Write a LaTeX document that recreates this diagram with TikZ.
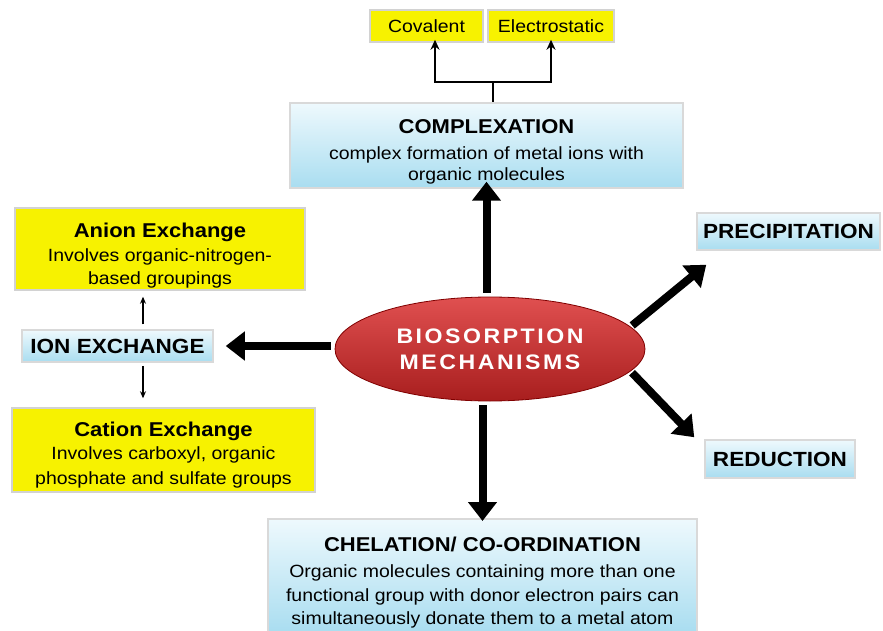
\documentclass[tikz,border=0pt]{standalone}
\usepackage{fontspec}
\setmainfont{Liberation Sans}[FakeStretch=1.1]
\usetikzlibrary{arrows.meta,shapes.geometric,calc}
\definecolor{yel}{HTML}{F7F200}
\definecolor{bluetop}{HTML}{EEF9FD}
\definecolor{bluebot}{HTML}{A9DDF0}
\definecolor{redtop}{HTML}{E05050}
\definecolor{redbot}{HTML}{A81E1E}
\newcommand{\ttl}{\fontsize{20}{22}\selectfont\bfseries}
\newcommand{\lift}[1]{\rule{0pt}{#1}}
\begin{document}
\begin{tikzpicture}[x=1pt,y=-1pt,
  yelbox/.style={fill=yel,draw=gray!35,line width=1.5pt,align=center,inner sep=0pt},
  bluebox/.style={top color=bluetop,bottom color=bluebot,draw=gray!30,line width=1.5pt,align=center,inner sep=0pt},
  body/.style={font=\fontsize{17.7}{23.5}\selectfont},
  bigarrow/.style={line width=8pt,-{Triangle[width=28pt,length=19pt]}},
  thinarrow/.style={line width=1.8pt,-{Stealth[length=10pt,width=9pt]}},
  smallarrow/.style={line width=1.3pt,-{Stealth[length=7pt,width=6pt]}}]
\useasboundingbox (0,0) rectangle (883,631);
\fill[white] (0,0) rectangle (883,631);

% nodes
\node[yelbox,minimum width=113pt,minimum height=32pt,font=\fontsize{17.7}{20}\selectfont] (cov) at (426.5,26) {Covalent};
\node[yelbox,minimum width=126pt,minimum height=32pt,font=\fontsize{17.7}{20}\selectfont] (ele) at (551,26) {Electrostatic};
\node[bluebox,body,minimum width=393pt,minimum height=85pt] (com) at (486.5,145.5)
  {{\ttl\lift{26pt}COMPLEXATION}\\[3pt]complex formation of metal ions with\\[-3pt]organic molecules};
\node[yelbox,body,minimum width=290pt,minimum height=82pt] (ani) at (160,249)
  {{\ttl\lift{28pt}Anion Exchange}\\[0pt]Involves organic-nitrogen-\\based groupings};
\node[bluebox,minimum width=191pt,minimum height=32pt,font=\fontsize{20.5}{22}\selectfont\bfseries] (ion) at (117.5,346)
  {ION EXCHANGE};
\node[yelbox,body,minimum width=303pt,minimum height=84pt] (cat) at (163.5,450)
  {{\ttl\lift{24pt}Cation Exchange}\\[0pt]Involves carboxyl, organic\\[1pt]phosphate and sulfate groups};
\node[bluebox,minimum width=183pt,minimum height=37pt,font=\fontsize{20.5}{22}\selectfont\bfseries] (pre) at (788.5,231.5)
  {PRECIPITATION};
\node[bluebox,minimum width=150pt,minimum height=38pt,font=\fontsize{20.5}{22}\selectfont\bfseries] (red) at (780,459)
  {REDUCTION};
\node[bluebox,body,minimum width=429pt,minimum height=114pt,anchor=north] (che) at (482.5,518)
  {{\ttl\lift{28pt}CHELATION/ CO-ORDINATION}\\[3pt]Organic molecules containing more than one\\functional group with donor electron pairs can\\simultaneously donate them to a metal atom};

% central ellipse
\node[ellipse,top color=redtop,bottom color=redbot,draw=red!50!black,line width=0.8pt,
  minimum width=310pt,minimum height=104pt,align=center,text=white,inner sep=0pt,
  font=\fontsize{21}{26}\selectfont\bfseries\addfontfeature{LetterSpace=12}] (bio) at (490,349)
  {BIOSORPTION\\MECHANISMS};

% connectors
\coordinate (j) at (493,82);
\coordinate (cx) at (435,0);
\draw[line width=1.8pt] (j) -- (j |- com.north);
\draw[thinarrow] (j) -| ([yshift=3pt]cx |- cov.south);
\draw[thinarrow] (j) -| ([yshift=3pt]ele.south);

\draw[bigarrow,shorten <=4pt] (bio.north -| com.south) -- ([yshift=7pt]com.south);
\draw[bigarrow,shorten <=4pt] (bio.west |- ion.east) -- ([xshift=12pt]ion.east);
\draw[bigarrow,shorten <=4pt] (bio.south -| che.north) -- ([yshift=-3pt]che.north);
\draw[bigarrow,shorten <=2pt] (bio.9) -- ([shift={(10,14)}]pre.south west);
\draw[bigarrow,shorten <=2pt] (bio.-9) -- ([shift={(-10,-2)}]red.north west);

\coordinate (ix) at (143,0);
\draw[smallarrow,shorten <=5pt,shorten >=6pt] (ix |- ion.north) -- (ix |- ani.south);
\draw[smallarrow,shorten <=3pt,shorten >=9pt] (ix |- ion.south) -- (ix |- cat.north);
\end{tikzpicture}
\end{document}
